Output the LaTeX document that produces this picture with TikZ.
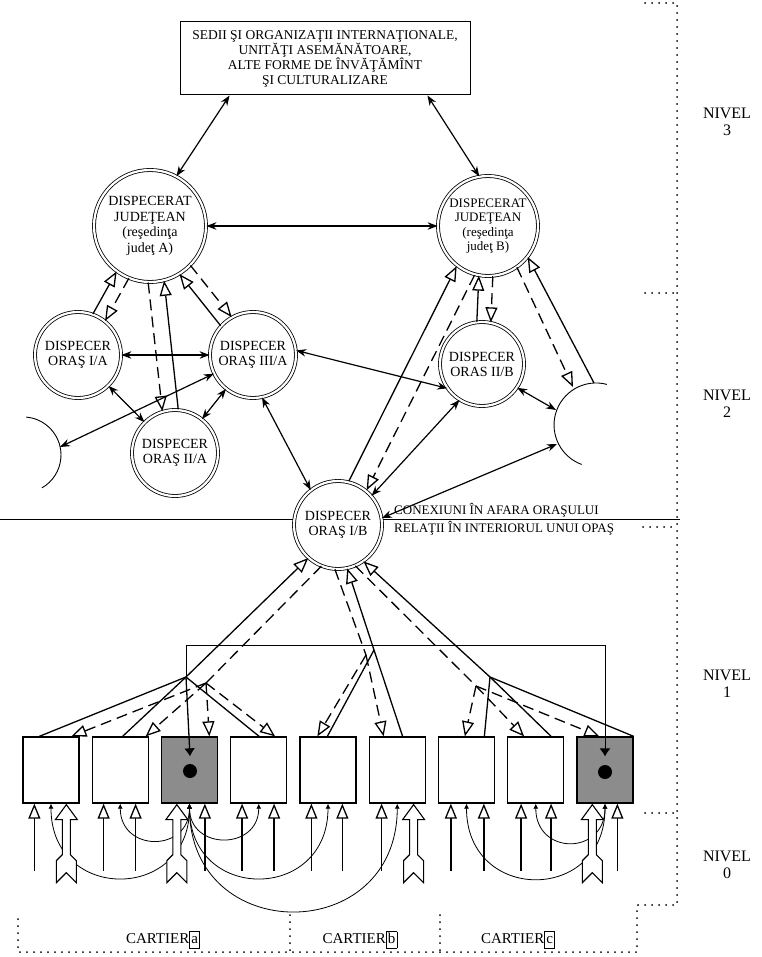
\documentclass[tikz,border=0pt]{standalone}
\usepackage{fontspec}
\setmainfont{Liberation Serif}
\usetikzlibrary{arrows.meta,calc}
\newcommand{\parlink}[6]{\draw[#1, shorten <=#5, shorten >=#6] ($(#2)!#4!90:(#3)$) -- ($(#3)!#4!-90:(#2)$);}
\newcommand{\uparr}[2]{\draw[sol,hol] ($(#1.south west)+(#2,67)$) -- ($(#1.south west)+(#2,0)$);}
\newcommand{\fletcharr}[2]{\path ($(#1.south west)+(#2,1)$) pic {fletch};}
\newcommand{\curvlink}[3]{\draw[curv] (#1.south) .. controls +(0,#3) and +(0,#3) .. (#2.south);}
\newcommand{\cartbox}[1]{{\setlength\fboxsep{1.2pt}\setlength\fboxrule{0.8pt}\fbox{\vphantom{bp}#1}}}
\tikzset{
 sol/.style={line width=1.3pt},
 dsh/.style={line width=1.3pt, dash pattern=on 11pt off 6pt},
 dbl/.style={line width=1.2pt, {Stealth[length=10pt,width=7.5pt]}-{Stealth[length=10pt,width=7.5pt]}},
 hol/.style={-{Triangle[length=15pt,width=12pt,fill=white]}},
 fil/.style={-{Latex[length=8pt,width=11pt]}},
 curv/.style={line width=0.8pt, {Latex[length=5pt,width=5pt]}-{Latex[length=5pt,width=5pt]}},
 thinl/.style={line width=0.8pt},
 ringc/.style={circle, draw, line width=0.8pt, double, double distance=2.2pt, fill=white, inner sep=0pt, align=center},
 bigc/.style={ringc, font=\fontsize{14}{15.5}\selectfont},
 smc/.style={ringc, minimum size=86pt, font=\fontsize{14}{15}\selectfont},
 topbox/.style={draw, line width=1pt, fill=white, minimum width=290pt, minimum height=73pt, inner sep=0pt, align=center, font=\fontsize{13.5}{15}\selectfont},
 boxst/.style={draw, line width=1.3pt, fill=white, minimum width=56pt, minimum height=66pt, inner sep=0pt},
 shbox/.style={boxst, fill=black!45},
 dotn/.style={circle, fill=black, minimum size=14pt, inner sep=0pt},
 lvl/.style={align=center, font=\fontsize{16}{17}\selectfont},
 lab/.style={anchor=west, inner sep=0pt, font=\fontsize{13}{14}\selectfont},
 cart/.style={font=\fontsize{15}{17}\selectfont, inner sep=0pt},
 dotl/.style={line width=2pt, dash pattern=on 0pt off 7pt, line cap=round},
 arcst/.style={line width=0.9pt},
 fletch/.pic={\draw[line width=1.1pt, fill=white] (0,0) -- (11,15) -- (4,15) -- (4,50) -- (10,56) -- (10,78) -- (0,68) -- (-10,78) -- (-10,56) -- (-4,50) -- (-4,15) -- (-11,15) -- cycle;}
}
\begin{document}
\begin{tikzpicture}[x=1pt,y=-1pt]
\useasboundingbox (0,0) rectangle (761,957);
\fill[white] (0,0) rectangle (761,957);

% divider between levels 2 and 1
\draw[line width=1pt] (0,519) -- (680,519);

% ---------- nodes ----------
\node[topbox] (top) at (325,58.5) {SEDII ŞI ORGANIZAŢII INTERNAŢIONALE,\\UNITĂŢI ASEMĂNĂTOARE,\\ALTE FORME DE ÎNVĂŢĂMÎNT\\ŞI CULTURALIZARE};
\node[bigc, minimum size=112pt] (A) at (150,226) {DISPECERAT\\JUDEŢEAN\\(reşedinţa\\judeţ A)};
\node[bigc, minimum size=100pt, font=\fontsize{13}{14.5}\selectfont] (B) at (488,226) {DISPECERAT\\JUDEŢEAN\\(reşedinţa\\judeţ B)};
\node[smc] (IA) at (78,355) {DISPECER\\ORAŞ I/A};
\node[smc] (IIIA) at (253,355) {DISPECER\\ORAŞ III/A};
\node[smc] (IIA) at (175,453) {DISPECER\\ORAŞ II/A};
\node[smc, minimum size=84pt] (IIB) at (482,364) {DISPECER\\ORAS II/B};
\node[smc, minimum size=88pt] (IB) at (338,525) {DISPECER\\ORAŞ I/B};

% open arcs (other towns)
\draw[arcst] (26.3,417.1) arc[start angle=-85, end angle=60, radius=38];
\draw[arcst] (606.9,384.4) arc[start angle=-75, end angle=-250, radius=42];
\coordinate (la1) at (60,447);
\coordinate (ra1) at (557,444);
\coordinate (ra2) at (556,410);
\coordinate (rat1) at (573,387);
\coordinate (rat2) at (594,383);

% labels at divider
\node[lab] (cx) at (394,510) {CONEXIUNI ÎN AFARA ORAŞULUI};
\node[lab] (rl) at (394,528) {RELAŢII ÎN INTERIORUL UNUI OPAŞ};

% ---------- level 3 / 2 connectors ----------
\coordinate (t1) at ($(top.south west)!0.172!(top.south east)$);
\coordinate (t2) at ($(top.south west)!0.852!(top.south east)$);
\draw[dbl] (t1) -- (A.62);
\draw[dbl] (t2) -- (B.100);
\draw[dbl] (A) -- (B);

\parlink{dsh,hol}{A}{IA}{7pt}{56pt}{43pt}
\parlink{sol,hol}{IA}{A}{7pt}{43pt}{56pt}
\parlink{dsh,hol}{A}{IIA}{-8pt}{56pt}{43pt}
\parlink{sol,hol}{IIA}{A}{-8pt}{43pt}{56pt}
\parlink{dsh,hol}{A}{IIIA}{7pt}{56pt}{43pt}
\parlink{sol,hol}{IIIA}{A}{7pt}{43pt}{56pt}
\parlink{dsh,hol}{B}{IIB}{7pt}{50pt}{42pt}
\parlink{sol,hol}{IIB}{B}{7pt}{42pt}{50pt}
\parlink{dsh,hol}{B}{IB}{10pt}{50pt}{44pt}
\parlink{sol,hol}{IB}{B}{10pt}{44pt}{50pt}
\draw[dsh,hol] (B.-55) -- (rat1);
\draw[sol,hol] (rat2) -- (B.-38);

\draw[dbl] (IA) -- (IIIA);
\draw[dbl] (IA) -- (IIA);
\draw[dbl] (IIIA) -- (IIA);
\draw[dbl] (la1) -- (IIIA);
\draw[dbl] (IIIA.-78) -- (IB.128);
\draw[dbl] (IIIA.6) -- (IIB.215);
\draw[dbl] (IIB.238) -- (IB.41);
\draw[dbl] (ra1) -- (IB.9);
\draw[dbl] (IIB.-34) -- (ra2);

% ---------- level 1 boxes ----------
\node[boxst] (b1) at (51,770) {};
\node[boxst] (b2) at (120.25,770) {};
\node[shbox] (b3) at (189.5,770) {};
\node[boxst] (b4) at (258.75,770) {};
\node[boxst] (b5) at (328,770) {};
\node[boxst] (b6) at (397.25,770) {};
\node[boxst] (b7) at (466.5,770) {};
\node[boxst] (b8) at (535.75,770) {};
\node[shbox] (b9) at (605,770) {};
\node[dotn] (k3) at (190,771) {};
\node[dotn] (k9) at (605,772) {};

% junctions
\coordinate (J1) at (186,677);
\coordinate (J2) at (206,683);
\coordinate (J3) at (490,677);
\coordinate (J4) at (476,686);
\coordinate (J5) at (374,650);
\coordinate (J6) at (366,655);
\coordinate (r1) at (605,645);
% attachment points on boxes
\coordinate (s1) at ($(b1.north west)+(17,0)$);
\coordinate (d1) at ($(b1.north west)+(49,0)$);
\coordinate (s2) at ($(b2.north west)+(31,0)$);
\coordinate (d2) at ($(b2.north west)+(54,0)$);
\coordinate (s3) at ($(b3.north)+(0.5,20)$);
\coordinate (d3) at ($(b3.north west)+(48.5,0)$);
\coordinate (s4) at ($(b4.north west)+(29,0)$);
\coordinate (d4) at ($(b4.north west)+(45,0)$);
\coordinate (s5) at ($(b5.north west)+(28,0)$);
\coordinate (d5) at ($(b5.north west)+(18,0)$);
\coordinate (s6) at ($(b6.north west)+(34,0)$);
\coordinate (d6) at ($(b6.north west)+(15,0)$);
\coordinate (s7) at ($(b7.north west)+(46.5,0)$);
\coordinate (d7) at ($(b7.north west)+(27,0)$);
\coordinate (s8) at ($(b8.north west)+(44,0)$);
\coordinate (d8) at ($(b8.north west)+(17,0)$);
\coordinate (s9) at (b9.north east);
\coordinate (d9) at ($(b9.north west)+(23,0)$);
\coordinate (e9) at ($(b9.north)+(0,20)$);

% left fan
\draw[sol,hol] (J1) -- (IB.228);
\draw[dsh] (IB.248) -- (J2);
\draw[sol] (s1) -- (J1);
\draw[sol] (s2) -- (J1);
\draw[sol] (s4) -- (J1);
\draw[sol,fil] (J1) -- (s3);
\draw[dsh,hol] (J2) -- (d1);
\draw[dsh,hol] (J2) -- (d2);
\draw[dsh,hol] (J2) -- (d3);
\draw[dsh,hol] (J2) -- (d4);
% middle fan
\draw[sol,hol] (s6) -- (J5) -- (IB.282);
\draw[sol] (s5) -- (J5);
\draw[dsh] (IB.266) -- (J6);
\draw[dsh,hol] (J6) -- (d6);
\draw[dsh,hol] (J6) -- (d5);
% right fan
\draw[sol,hol] (J3) -- (IB.305);
\draw[dsh] (IB.293) -- (J4);
\draw[sol] (s7) -- (J3);
\draw[sol] (s8) -- (J3);
\draw[sol] (s9) -- (J3);
\draw[dsh,hol] (J4) -- (d7);
\draw[dsh,hol] (J4) -- (d8);
\draw[dsh,hol] (J4) -- (d9);
% thin link between the two shaded boxes
\draw[thinl,fil] (J1) |- (r1) -- (e9);

% ---------- level 0 ----------
\curvlink{b3}{b1}{99}
\curvlink{b3}{b2}{49}
\curvlink{b3}{b4}{47}
\curvlink{b3}{b5}{99}
\curvlink{b3}{b6}{143}
\curvlink{b9}{b7}{100}
\curvlink{b9}{b8}{52}

\uparr{b1}{12} \fletcharr{b1}{44}
\uparr{b2}{12} \uparr{b2}{44}
\fletcharr{b3}{16} \uparr{b3}{44}
\uparr{b4}{12} \uparr{b4}{44}
\uparr{b5}{12} \uparr{b5}{43}
\uparr{b6}{13} \fletcharr{b6}{45}
\uparr{b7}{13} \uparr{b7}{46}
\uparr{b8}{14} \uparr{b8}{44}
\fletcharr{b9}{16} \uparr{b9}{41}

% ---------- level labels and dotted frame ----------
\node[lvl] (n3) at (727,122) {NIVEL\\3};
\node[lvl] (n2) at (727,404) {NIVEL\\2};
\node[lvl] (n1) at (727,684) {NIVEL\\1};
\node[lvl] (n0) at (727,865) {NIVEL\\0};

\draw[dotl] (645,3) -- (677,3) -- (677,905) -- (637,905) -- (637,952) -- (18,952) -- (18,915);
\draw[dotl] (645,293) -- (677,293);
\draw[dotl] (643,527) -- (677,527);
\draw[dotl] (645,813) -- (677,813);
\draw[dotl] (290,915) -- (290,952);
\draw[dotl] (440,915) -- (440,952);

\node[cart] (ca) at (163,940) {CARTIER\cartbox{a}};
\node[cart] (cb) at (360,940) {CARTIER\cartbox{b}};
\node[cart] (cc) at (518,940) {CARTIER\cartbox{c}};
\end{tikzpicture}
\end{document}
